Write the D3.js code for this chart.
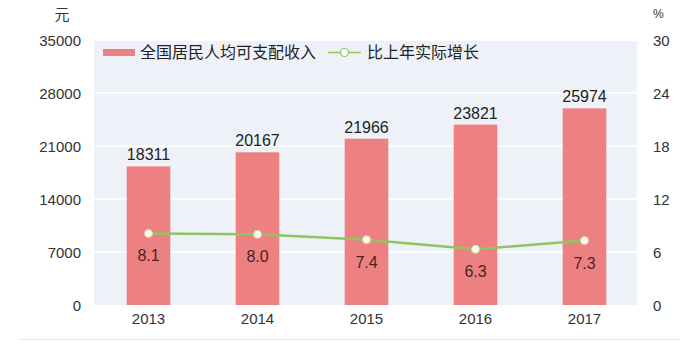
<!DOCTYPE html>
<html><head><meta charset="utf-8">
<script src="https://cdn.jsdelivr.net/npm/d3@7"></script>
<style>
html,body{margin:0;padding:0;background:#fff;}
text{font-family:"Liberation Sans","Noto Sans CJK SC",sans-serif;}
</style></head>
<body><svg id="c" width="692" height="364"></svg>
<script>
const years = ["2013","2014","2015","2016","2017"];
const income = [18311,20167,21966,23821,25974];
const growth = [8.1,8.0,7.4,6.3,7.3];
const leftTicks = [0,7000,14000,21000,28000,35000];
const rightTicks = [0,6,12,18,24,30];
const seriesNames = ["全国居民人均可支配收入","比上年实际增长"];

const svg = d3.select("#c");
const pL = 94, pR = 639, pT = 40, pB = 305;

svg.append("rect").attr("x",pL).attr("y",pT+1).attr("width",637-pL).attr("height",pB-pT-1).attr("fill","#eef2f8");

const x = d3.scaleBand().domain(years).range([pL,pR]).paddingInner(0.6).paddingOuter(0.3);
const yL = d3.scaleLinear().domain([0,35000]).range([pB,pT]);
const yR = d3.scaleLinear().domain([0,30]).range([pB,pT]);

// gridlines
svg.append("g").selectAll("line").data(leftTicks.slice(1,-1)).join("line")
  .attr("x1",pL).attr("x2",637).attr("y1",d=>yL(d)).attr("y2",d=>yL(d))
  .attr("stroke","#ffffff").attr("stroke-width",1.5);

// left axis
const gL = svg.append("g").attr("transform",`translate(81,0)`)
  .call(d3.axisLeft(yL).tickValues(leftTicks).tickSize(0).tickPadding(0).tickFormat(d3.format("d")));
gL.select(".domain").remove();
gL.selectAll("text").attr("font-size",15).attr("fill","#333").attr("dy","0.35em");

// right axis
const gR = svg.append("g").attr("transform",`translate(653,0)`)
  .call(d3.axisRight(yR).tickValues(rightTicks).tickSize(0).tickPadding(0));
gR.select(".domain").remove();
gR.selectAll("text").attr("font-size",15).attr("fill","#333").attr("dy","0.35em");

svg.append("text").attr("x",62).attr("y",20).attr("font-size",15).attr("fill","#333").attr("text-anchor","middle").text("元");
svg.append("text").attr("x",653).attr("y",18).attr("font-size",12).attr("fill","#333").text("%");

// bars
svg.append("g").selectAll("rect").data(income).join("rect")
  .attr("x",(d,i)=>x(years[i])).attr("width",x.bandwidth())
  .attr("y",d=>yL(d)).attr("height",d=>pB-yL(d)).attr("fill","#ed8080");

svg.append("g").selectAll("text").data(income).join("text")
  .attr("x",(d,i)=>x(years[i])+x.bandwidth()/2).attr("y",d=>yL(d)-6)
  .attr("text-anchor","middle").attr("font-size",16).attr("fill","#222").text(d=>d);

// x axis labels
const gX = svg.append("g").attr("transform",`translate(0,${pB})`)
  .call(d3.axisBottom(x).tickSize(0).tickPadding(8));
gX.select(".domain").remove();
gX.selectAll("text").attr("font-size",15).attr("fill","#333");

// line
const cx = (i)=>x(years[i])+x.bandwidth()/2;
svg.append("path").datum(growth)
  .attr("d",d3.line().x((d,i)=>cx(i)).y(d=>yR(d)))
  .attr("fill","none").attr("stroke","#92c462").attr("stroke-width",2.5);
svg.append("g").selectAll("circle").data(growth).join("circle")
  .attr("cx",(d,i)=>cx(i)).attr("cy",d=>yR(d)).attr("r",4)
  .attr("fill","#fffbe8").attr("stroke","#c9dca0").attr("stroke-width",1);
svg.append("g").selectAll("text").data(growth).join("text")
  .attr("x",(d,i)=>cx(i)).attr("y",d=>yR(d)+28)
  .attr("text-anchor","middle").attr("font-size",16).attr("fill","#4a2424").text(d=>d.toFixed(1));

// legend
svg.append("rect").attr("x",103).attr("y",49).attr("width",32).attr("height",7).attr("fill","#ed8080");
svg.append("text").attr("x",140).attr("y",58).attr("font-size",16).attr("fill","#222").text(seriesNames[0]);
svg.append("line").attr("x1",328).attr("x2",361).attr("y1",52.5).attr("y2",52.5).attr("stroke","#92c462").attr("stroke-width",1.5);
svg.append("circle").attr("cx",344.5).attr("cy",52.5).attr("r",4).attr("fill","#fff").attr("stroke","#92c462").attr("stroke-width",1.2);
svg.append("text").attr("x",367).attr("y",58).attr("font-size",16).attr("fill","#222").text(seriesNames[1]);

// bottom rule
svg.append("line").attr("x1",20).attr("x2",680).attr("y1",339.5).attr("y2",339.5).attr("stroke","#e2e2e2").attr("stroke-width",1);
</script></body></html>
